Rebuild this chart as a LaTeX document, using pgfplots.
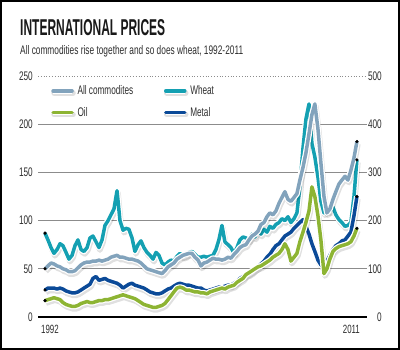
\documentclass[border=0pt]{standalone}
\usepackage{pgfplots}
\pgfplotsset{compat=1.18}
\usepackage{pgfplotstable}
\usepackage{graphicx}
\usepackage{fontspec}
\setmainfont{Liberation Sans}[FakeStretch=0.66]
\definecolor{commc}{HTML}{82A3BC}
\definecolor{wheatc}{HTML}{14A0B2}
\definecolor{oilc}{HTML}{8DB433}
\definecolor{metalc}{HTML}{0B4A98}
\definecolor{txt}{HTML}{2E2E2E}
\definecolor{gridc}{HTML}{8C8C8C}

\pgfplotstableread{
year comm wheat oil metal
1992.00 50 87 17 28
1992.18 53 80 18 30
1992.37 56 72 19 30
1992.55 55 66 20 30
1992.74 53 70 19 29
1992.92 52 76 18 30
1993.10 50 74 15 29
1993.29 49 67 13 27
1993.47 47 60 12 26
1993.66 47 64 11 25
1993.84 48 74 11 25
1994.02 51 80 12 26
1994.21 54 70 14 28
1994.39 56 68 15 30
1994.58 57 72 16 32
1994.76 57 82 15 34
1994.94 58 84 15 40
1995.13 58 78 16 42
1995.31 59 72 17 38
1995.50 58 80 17 39
1995.68 59 95 18 40
1995.87 60 100 18 38
1996.05 62 106 19 37
1996.23 63 112 20 36
1996.42 64 131 21 35
1996.60 62 100 22 33
1996.79 62 90 23 30
1996.97 61 92 22 32
1997.15 60 91 21 34
1997.34 60 82 20 35
1997.52 59 68 19 33
1997.71 58 75 17 32
1997.89 56 79 15 31
1998.07 53 72 13 30
1998.26 50 67 12 28
1998.44 49 64 11 26
1998.63 48 60 10 25
1998.81 47 67 10 24
1998.99 46 64 11 24
1999.18 45 56 12 25
1999.36 48 54 14 27
1999.55 52 57 18 29
1999.73 54 59 22 30
1999.91 56 58 26 32
2000.10 60 63 30 34
2000.28 62 66 31 35
2000.47 64 63 30 34
2000.65 65 64 28 33
2000.83 66 67 28 33
2001.02 66 68 27 32
2001.20 62 65 26 31
2001.39 59 62 26 30
2001.57 53 62 25 30
2001.75 56 63 25 28
2001.94 57 62 24 27
2002.12 59 63 26 28
2002.31 61 64 27 29
2002.49 60 70 28 30
2002.67 60 80 29 31
2002.86 59 95 30 31
2003.04 60 78 29 32
2003.23 62 75 31 33
2003.41 61 72 32 33
2003.60 65 66 33 35
2003.78 68 72 36 37
2003.96 72 80 38 40
2004.15 74 83 40 42
2004.33 75 82 44 44
2004.52 80 80 46 45
2004.70 84 86 48 47
2004.88 86 83 50 50
2005.07 89 90 52 52
2005.25 96 86 53 55
2005.44 98 91 55 58
2005.62 104 88 57 62
2005.80 108 94 59 65
2005.99 106 92 62 70
2006.17 110 96 64 74
2006.36 118 98 66 76
2006.54 124 102 70 80
2006.72 130 100 76 84
2006.91 122 104 70 86
2007.09 120 98 58 88
2007.28 124 102 62 92
2007.46 128 108 66 95
2007.64 142 135 78 98
2007.83 155 175 88 101
2008.01 170 205 98 94
2008.20 190 221 110 86
2008.38 210 180 135 76
2008.56 221 166 125 68
2008.75 195 145 105 59
2008.93 160 120 80 54
2009.12 125 108 45 52
2009.30 108 112 50 58
2009.48 112 110 60 64
2009.67 122 114 68 70
2009.85 130 106 71 74
2010.04 138 101 73 76
2010.22 142 98 74 79
2010.41 146 94 75 80
2010.59 142 95 76 84
2010.77 152 98 78 88
2010.96 165 125 84 105
2011.14 182 163 92 125
}\data

\newcommand\myseries[2]{%
  \addplot[forget plot, draw=black, opacity=0.12, line width=5.5bp, xshift=1bp, yshift=-2.5bp, line join=round] table[x=year,y=#1]{\data};
  \addplot[forget plot, draw=#2, line width=3.5bp, line join=round, preaction={draw=white, line width=6bp}] table[x=year,y=#1]{\data};
}
\newcommand\mydots[1]{%
  \addplot[forget plot, only marks, mark=*, mark size=1.4bp, black, skip coords between index={1}{104}] table[x=year,y=#1]{\data};
}

\begin{document}
\begin{tikzpicture}
\useasboundingbox (0,0) rectangle (400bp,350bp);
\fill[white] (0,0) rectangle (400bp,350bp);

\node[anchor=south west, inner sep=0pt, text=black!90] at (20bp,314bp)
  {\resizebox{145bp}{16bp}{\bfseries INTERNATIONAL PRICES}};
\node[anchor=base west, inner sep=0pt, text=txt] at (20bp,295bp)
  {\resizebox{223bp}{9bp}{All commodities rise together and so does wheat, 1992-2011}};

\begin{axis}[
  at={(38bp,33bp)}, anchor=south west,
  width=329bp, height=241bp, scale only axis,
  xmin=1991.57, xmax=2011.76, ymin=0, ymax=250,
  clip=false,
  axis line style={draw=none},
  major tick length=0pt,
  ytick={0,50,100,150,200,250},
  xtick={1992.3,2010.8}, xticklabels={1992,2011},
  /pgf/number format/assume math mode=true,
  yticklabel style={font=\fontsize{12.5}{13}\selectfont, text=txt, inner sep=0pt, anchor=east, xshift=-5bp},
  xticklabel style={font=\fontsize{12}{13}\selectfont, text=txt, inner sep=0pt, anchor=north, yshift=-8bp},
  legend columns=2,
  legend cell align=left,
  legend style={at={(0.036,0.967)}, anchor=north west, draw=none, fill=none,
    font=\fontsize{12.5}{13}\selectfont, text=txt, inner sep=0pt,
    nodes={inner sep=1.5bp},
    row sep=8bp,
    /tikz/every even column/.append style={column sep=28bp}},
  legend image code/.code={%
    \draw[black, opacity=0.12, line width=5.5bp, line cap=round] (1bp,-2.2bp) -- (20bp,-2.2bp);
    \draw[#1, line cap=round] (0bp,0bp) -- (19bp,0bp);}
]
\draw[gridc, line width=0.8bp, dotted] (axis cs:1991.57,250) -- (axis cs:2011.76,250);
\draw[gridc, line width=0.9bp] (axis cs:1991.57,200) -- (axis cs:2011.76,200);
\draw[gridc, line width=0.9bp] (axis cs:1991.57,150) -- (axis cs:2011.76,150);
\draw[gridc, line width=0.9bp] (axis cs:1991.57,100) -- (axis cs:2011.76,100);
\draw[gridc, line width=0.9bp] (axis cs:1991.57,50) -- (axis cs:2011.76,50);
\draw[black, line width=1.8bp] (axis cs:1991.57,0) -- (axis cs:2011.76,0);

\myseries{wheat}{wheatc}
\myseries{comm}{commc}
\myseries{metal}{metalc}
\myseries{oil}{oilc}
\mydots{comm}
\mydots{wheat}
\mydots{metal}
\mydots{oil}

\addlegendimage{draw=commc, line width=3.5bp, preaction={draw=white, line width=6bp}}
\addlegendentry{All commodites}
\addlegendimage{draw=wheatc, line width=3.5bp, preaction={draw=white, line width=6bp}}
\addlegendentry{Wheat}
\addlegendimage{draw=oilc, line width=3.5bp, preaction={draw=white, line width=6bp}}
\addlegendentry{Oil}
\addlegendimage{draw=metalc, line width=3.5bp, preaction={draw=white, line width=6bp}}
\addlegendentry{Metal}
\end{axis}

\begin{axis}[
  at={(38bp,33bp)}, anchor=south west,
  width=329bp, height=241bp, scale only axis,
  xmin=1991.57, xmax=2011.76, ymin=0, ymax=500,
  axis line style={draw=none},
  major tick length=0pt,
  axis y line*=right,
  hide x axis,
  ytick={0,100,200,300,400,500},
  /pgf/number format/assume math mode=true,
  yticklabel style={font=\fontsize{12.5}{13}\selectfont, text=txt, inner sep=0pt, anchor=east, xshift=15bp},
]
\end{axis}

\draw[black, line width=2bp] (1bp,1bp) rectangle (399bp,349bp);
\end{tikzpicture}
\end{document}
